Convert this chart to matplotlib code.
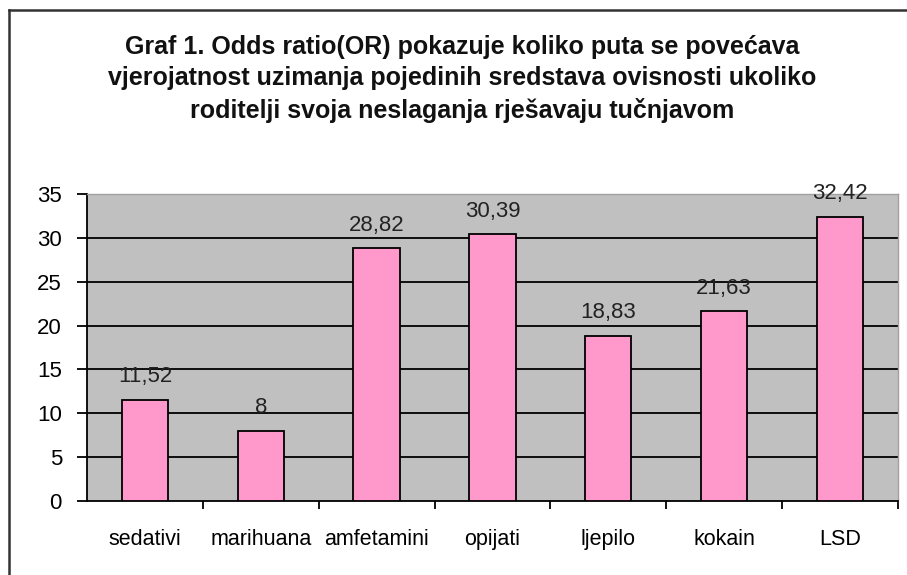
import numpy as np
import matplotlib.pyplot as plt
from matplotlib.lines import Line2D

title = ("Graf 1. Odds ratio(OR) pokazuje koliko puta se povećava\n"
         "vjerojatnost uzimanja pojedinih sredstava ovisnosti ukoliko\n"
         "roditelji svoja neslaganja rješavaju tučnjavom")
categories = ["sedativi", "marihuana", "amfetamini", "opijati", "ljepilo", "kokain", "LSD"]
values = [11.52, 8, 28.82, 30.39, 18.83, 21.63, 32.42]
value_labels = ["11,52", "8", "28,82", "30,39", "18,83", "21,63", "32,42"]
yticks = [0, 5, 10, 15, 20, 25, 30, 35]

plt.rcParams['font.family'] = ['Liberation Sans', 'DejaVu Sans']

fig = plt.figure(figsize=(9.07, 5.75), dpi=100)
ax = fig.add_axes([0.0959, 0.1287, 0.8941, 0.5339])

x = np.arange(len(categories))
ax.set_facecolor('#c0c0c0')
ax.bar(x, values, width=0.4, color='#ff99cc', edgecolor='black', linewidth=1.3, zorder=3)

for xi, v, lab in zip(x, values, value_labels):
    ax.annotate(lab, (xi, v), xytext=(0, 9), textcoords='offset points',
                ha='center', va='bottom', fontsize=16, color='#222222', zorder=4)

ax.set_xlim(-0.5, len(categories) - 0.5)
ax.set_ylim(0, 35)
ax.set_yticks(yticks)
ax.set_yticklabels([str(t) for t in yticks], fontsize=16)
for t in yticks[1:-1]:
    ax.axhline(t, color='black', linewidth=1.3, zorder=1)

ax.set_xticks(x)
ax.set_xticklabels(categories, fontsize=15.5)
ax.set_xticks(np.arange(0.5, len(categories) - 0.4, 1), minor=True)
ax.tick_params(axis='x', which='major', length=0, pad=20)
ax.tick_params(axis='x', which='minor', length=6, width=1.3)
ax.tick_params(axis='y', length=7, width=1.3, pad=11)

for side in ['top', 'right']:
    ax.spines[side].set_color('#a0a0a0')
    ax.spines[side].set_linewidth(1)
for side in ['left', 'bottom']:
    ax.spines[side].set_linewidth(1.3)

fig.text(0.51, 0.8626, title, ha='center', va='center', fontsize=18,
         fontweight='bold', linespacing=1.4, color='#111111')

# outer frame (top and left edge visible)
fig.add_artist(Line2D([9 / 907, 9 / 907], [0, 1 - 10 / 575], color='#333333', linewidth=1.8))
fig.add_artist(Line2D([9 / 907, 1], [1 - 10 / 575, 1 - 10 / 575], color='#333333', linewidth=1.8))

fig.savefig('out.png', dpi=100)
